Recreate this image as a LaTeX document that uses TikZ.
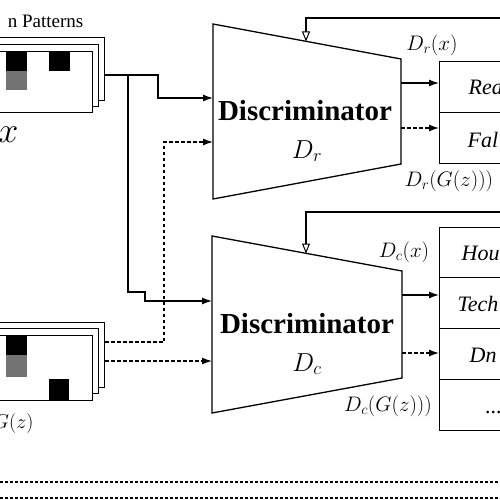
\RequirePackage{fix-cm}
\documentclass[tikz,border=0pt]{standalone}
\usepackage{fix-cm}
\usepackage[no-math]{fontspec}
\setmainfont{Liberation Serif}
\usetikzlibrary{arrows.meta}
\begin{document}
\begin{tikzpicture}[x=1pt,y=-1pt, line width=1.3pt,
  conn/.style={-{Latex[length=10pt,width=7pt]}},
  dconn/.style={conn, dash pattern=on 3.5pt off 2.5pt},
  fb/.style={-{Triangle[open,length=10pt,width=8pt,line width=1pt]}},
  sheet/.style={draw, fill=white},
  box/.style={draw, anchor=north west, minimum width=90pt, inner sep=0pt},
  lbl/.style={inner sep=0pt, font=\fontsize{21}{24}\selectfont},
  cls/.style={inner sep=0pt, anchor=base west, font=\fontsize{22}{26}\selectfont\itshape},
  disc/.style={inner sep=0pt, font=\fontsize{29}{32}\selectfont\bfseries},
  dsym/.style={inner sep=0pt, font=\fontsize{26}{30}\selectfont},
  ]
\useasboundingbox (0,0) rectangle (500,500);

% ---- real pattern stack
\node[sheet, anchor=north east, minimum width=260pt, minimum height=63pt] (xback) at (105,37) {};
\node[sheet, anchor=north east, minimum width=260pt, minimum height=62pt] (xmid) at (99,44) {};
\node[sheet, anchor=north east, minimum width=260pt, minimum height=61pt] (xfront) at (93,51) {};
\fill[black] (6,51) rectangle (27,71);
\fill[black!55] (6,71) rectangle (27,90);
\fill[black] (49,51) rectangle (70,71);
\node[anchor=base east, inner sep=0pt, font=\fontsize{19}{22}\selectfont] (ptitle) at (84,28) {n Patterns};
\node[anchor=base east, inner sep=0pt, font=\fontsize{36}{40}\selectfont] (xlab) at (19,142) {$x$};

% ---- generated pattern stack
\node[sheet, anchor=north east, minimum width=260pt, minimum height=65pt] (gback) at (105,322) {};
\node[sheet, anchor=north east, minimum width=260pt, minimum height=65pt] (gmid) at (99,328) {};
\node[sheet, anchor=north east, minimum width=260pt, minimum height=65pt] (gfront) at (93,335) {};
\fill[black] (6,335) rectangle (27,355);
\fill[black!55] (6,355) rectangle (27,377);
\fill[black] (49,379) rectangle (69,400);
\node[anchor=base east, inner sep=0pt, font=\fontsize{20}{24}\selectfont] (glab) at (34,428) {$G(z)$};

% ---- discriminator D_r
\draw (213,24) -- (401,59) -- (401,164) -- (213,199) -- cycle;
\coordinate (drin1) at (213,98);
\coordinate (drin2) at (213,142);
\coordinate (drout1) at (401,83);
\coordinate (drout2) at (401,128);
\coordinate (drtop) at (306,41.5);
\node[disc, anchor=base] (drname) at (305,121) {Discriminator};
\node[dsym, anchor=base] (drsym) at (307,158) {$D_r$};

% ---- discriminator D_c
\draw (212,236) -- (402,271) -- (402,378) -- (212,413) -- cycle;
\coordinate (dcin1) at (212,301);
\coordinate (dcin2) at (212,361);
\coordinate (dcout1) at (402,295);
\coordinate (dcout2) at (402,353);
\coordinate (dctop) at (306,253.5);
\node[disc, anchor=base] (dcname) at (307,333) {Discriminator};
\node[dsym, anchor=base] (dcsym) at (307,371) {$D_c$};

% ---- real / fake boxes
\node[box, minimum height=51pt] (real) at (439,61) {};
\node[box, minimum height=51pt] (fake) at (439,112) {};
\node[cls] (realt) at (468,95) {Rea};
\node[cls] (faket) at (467,147) {Fal};

% ---- class boxes
\node[box, minimum height=50pt] (c1) at (439,227) {};
\node[box, minimum height=51pt] (c2) at (439,277) {};
\node[box, minimum height=51pt] (c3) at (439,328) {};
\node[box, minimum height=51pt] (c4) at (439,379) {};
\node[cls] (c1t) at (461,260) {Hou};
\node[cls] (c2t) at (457,311) {Tech};
\node[cls] (c3t) at (469,362) {Dn};
\node[cls] (c4t) at (485,413) {...};

% ---- output labels
\node[lbl] (lrx) at (432,45) {$D_r(x)$};
\node[lbl] (lrg) at (449,181) {$D_r(G(z)))$};
\node[lbl] (lcx) at (404,252) {$D_c(x)$};
\node[lbl] (lcg) at (388,406) {$D_c(G(z)))$};

% ---- connectors
\coordinate (xo) at (105,75);
\coordinate (go1) at (105,342);
\coordinate (go2) at (105,361);
\draw[conn] (xo) -- (158,75) -- (158,98) -- (drin1);
\draw[conn] (128,75) -- (128,292) -- (145,292) -- (145,301) -- (dcin1);
\draw[dconn] (go1) -- (164,342) -- (164,142) -- (drin2);
\draw[dconn] (go2) -- (dcin2);

\draw[conn] (drout1) -- (real.west |- drout1);
\draw[dconn] (drout2) -- (fake.west |- drout2);
\draw[conn] (dcout1) -- (c2.west |- dcout1);
\draw[dconn] (dcout2) -- (c3.west |- dcout2);

\coordinate (fbr) at (520,18);
\coordinate (fbc) at (520,212);
\draw[fb] (fbr) -- (306,18) -- (drtop);
\draw[fb] (fbc) -- (306,212) -- (dctop);

% ---- bottom dashed rules
\coordinate (b1l) at (0,482);
\coordinate (b1r) at (500,482);
\coordinate (b2l) at (0,498);
\coordinate (b2r) at (500,498);
\draw[dash pattern=on 3pt off 2pt] (b1l) -- (b1r);
\draw[dash pattern=on 3pt off 2pt] (b2l) -- (b2r);
\end{tikzpicture}
\end{document}
